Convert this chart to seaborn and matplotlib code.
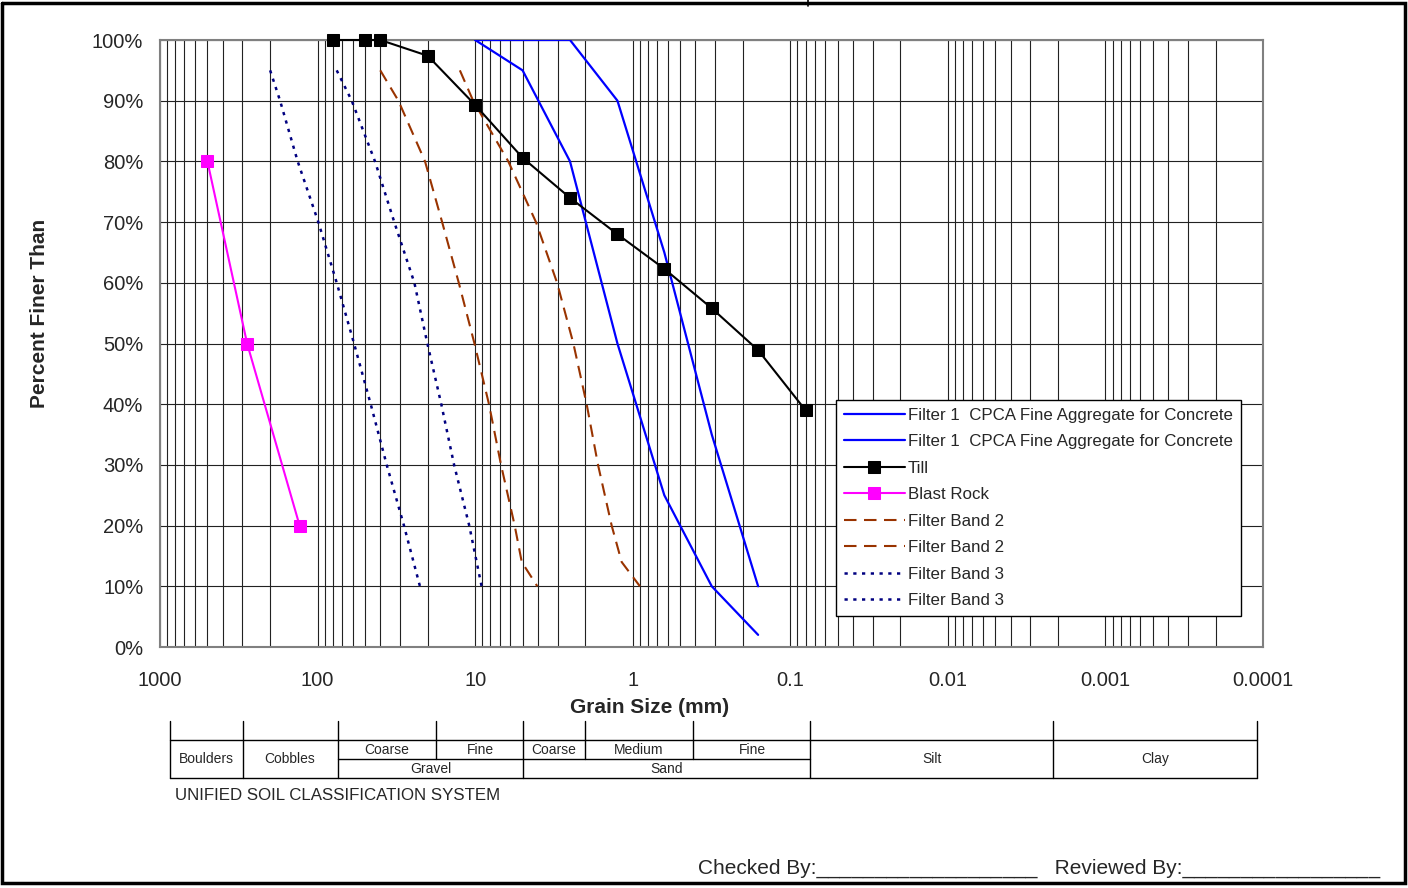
import matplotlib
matplotlib.use('Agg')
import matplotlib.pyplot as plt
import matplotlib.ticker as ticker
import seaborn as sns

# Grain size (mm) and percent finer
filter1_size = [10, 5, 2.5, 1.25, 0.63, 0.315, 0.16]
filter1_fine = [100, 95, 80, 50, 25, 10, 2]
filter1_coarse = [100, 100, 100, 90, 65, 35, 10]

till_size = [80, 50, 40, 20, 10, 5, 2.5, 1.25, 0.63, 0.315, 0.16, 0.08]
till_pct = [100, 100, 100, 97.4, 89.3, 80.6, 74.0, 68.0, 62.3, 55.8, 48.9, 39.0]

blast_size = [500, 280, 130]
blast_pct = [80, 50, 20]

band2_pct = [95, 90, 80, 70, 60, 50, 40, 30, 20, 14, 10]
band2_coarse = [40, 30.7, 20.8, 16.2, 12.7, 10.1, 8.17, 6.85, 5.61, 5.06, 4.03]
band2_fine = [12.5, 10.3, 6.16, 4.11, 3.02, 2.38, 1.96, 1.66, 1.36, 1.175, 0.90]

band3_pct = [95, 90, 80, 70, 60, 50, 40, 30, 20, 10]
band3_coarse = [200, 173, 133.7, 98.9, 75.6, 58.7, 46.0, 36.4, 28.3, 22.4]
band3_fine = [75.6, 60.7, 43.2, 32.6, 24.3, 20.1, 16.4, 13.6, 10.9, 9.1]

x_ticks = [1000, 100, 10, 1, 0.1, 0.01, 0.001, 0.0001]
x_tick_labels = ['1000', '100', '10', '1', '0.1', '0.01', '0.001', '0.0001']
y_ticks = list(range(0, 101, 10))

# USCS classification strip below the chart
uscs_upper = ['Coarse', 'Fine', 'Coarse', 'Medium', 'Fine']
uscs_lower = ['Gravel', 'Sand']
uscs_single = ['Boulders', 'Cobbles', 'Silt', 'Clay']

sns.set_style('white')
plt.rcParams['font.family'] = ['Liberation Sans', 'DejaVu Sans']

W, H = 1408, 888
fig = plt.figure(figsize=(W / 100, H / 100), dpi=100)

# overlay in pixel coordinates for page decorations
ov = fig.add_axes([0, 0, 1, 1], zorder=0)
ov.set_xlim(0, W)
ov.set_ylim(H, 0)
ov.axis('off')

ax = fig.add_axes([160 / W, 1 - 647 / H, 1103 / W, 607 / H], zorder=2)

BLUE = '#0000FF'
BROWN = '#993300'
NAVY = '#000080'
MAGENTA = '#FF00FF'

label_f1 = 'Filter 1  CPCA Fine Aggregate for Concrete'
sns.lineplot(x=filter1_size, y=filter1_fine, ax=ax, sort=False, estimator=None,
             color=BLUE, lw=1.6, label=label_f1, zorder=5)
sns.lineplot(x=filter1_size, y=filter1_coarse, ax=ax, sort=False, estimator=None,
             color=BLUE, lw=1.6, label=label_f1, zorder=5)
sns.lineplot(x=till_size, y=till_pct, ax=ax, sort=False, estimator=None,
             color='black', lw=1.5, marker='s', markersize=8.5,
             markeredgecolor='black', label='Till', zorder=6, clip_on=False)
sns.lineplot(x=blast_size, y=blast_pct, ax=ax, sort=False, estimator=None,
             color=MAGENTA, lw=1.5, marker='s', markersize=8,
             markeredgecolor=MAGENTA, label='Blast Rock', zorder=6)
for xs in (band2_coarse, band2_fine):
    sns.lineplot(x=xs, y=band2_pct, ax=ax, sort=False, estimator=None,
                 color=BROWN, lw=1.5, dashes=False, linestyle=(0, (6, 3.6)),
                 label='Filter Band 2', zorder=5)
for xs in (band3_coarse, band3_fine):
    sns.lineplot(x=xs, y=band3_pct, ax=ax, sort=False, estimator=None,
                 color=NAVY, lw=1.8, dashes=False, linestyle=(0, (1.3, 2.2)),
                 label='Filter Band 3', zorder=5)

ax.set_xscale('log')
ax.set_xlim(1000, 0.0001)
ax.set_ylim(0, 100)
ax.set_xticks(x_ticks)
ax.set_xticklabels(x_tick_labels)
ax.xaxis.set_minor_locator(ticker.LogLocator(base=10, subs=range(2, 10), numticks=100))
ax.xaxis.set_minor_formatter(ticker.NullFormatter())
ax.set_yticks(y_ticks)
ax.yaxis.set_major_formatter(ticker.FuncFormatter(lambda v, p: f'{int(v)}%'))
ax.grid(which='both', axis='x', color='#222222', lw=0.8)
ax.grid(which='major', axis='y', color='#222222', lw=0.8)
ax.tick_params(axis='both', which='both', length=0, labelsize=14.5)
ax.tick_params(axis='y', pad=12)
ax.tick_params(axis='x', pad=17)
for s in ax.spines.values():
    s.set_color('#808080')
    s.set_linewidth(1.5)
ax.set_xlabel('')
ax.set_ylabel('')

handles, labels = ax.get_legend_handles_labels()
leg = ax.legend(handles, labels, loc='upper left',
                bbox_to_anchor=(836 / W, 1 - 400 / H), bbox_transform=fig.transFigure,
                fontsize=12.2, frameon=True, fancybox=False, framealpha=1,
                edgecolor='black', handlelength=3.6, handletextpad=0.2,
                labelspacing=0.68, borderpad=0.45, borderaxespad=0)
leg.get_frame().set_linewidth(1.0)
leg.set_zorder(10)

fig.text(650 / W, 1 - 707 / H, 'Grain Size (mm)', ha='center', va='center',
         fontsize=15, fontweight='bold')
fig.text(40 / W, 1 - 313 / H, 'Percent Finer Than', ha='center', va='center',
         rotation=90, fontsize=15, fontweight='bold')

# classification strip
lk = dict(color='black', lw=1.0, clip_on=False)
ov.plot([170, 1257], [740, 740], **lk)
ov.plot([170, 1257], [778, 778], **lk)
ov.plot([338, 810], [759, 759], **lk)
for xv in (170, 243, 338, 523, 810, 1053, 1257):
    ov.plot([xv, xv], [721, 778], **lk)
for xv in (436, 585, 693):
    ov.plot([xv, xv], [721, 759], **lk)

tk = dict(ha='center', va='center', fontsize=10)
for txt, xc in zip(uscs_upper, (387, 480, 554, 639, 752)):
    ov.text(xc, 749.5, txt, **tk)
for txt, xc in zip(uscs_lower, (431, 667)):
    ov.text(xc, 768.5, txt, **tk)
for txt, xc in zip(uscs_single, (206, 290, 932, 1155)):
    ov.text(xc, 759, txt, **tk)

ov.text(175, 795, 'UNIFIED SOIL CLASSIFICATION SYSTEM', ha='left', va='center',
        fontsize=12.2)
ov.text(698, 868, 'Checked By:___________________   Reviewed By:_________________',
        ha='left', va='center', fontsize=15)

# page border
ov.plot([2, 1405, 1405, 2, 2], [3, 3, 883, 883, 3], color='black', lw=2.5,
        clip_on=False, solid_joinstyle='miter')
ov.plot([808, 808], [0, 6], color='black', lw=1.2, clip_on=False)

fig.savefig('out.png', dpi=100)
